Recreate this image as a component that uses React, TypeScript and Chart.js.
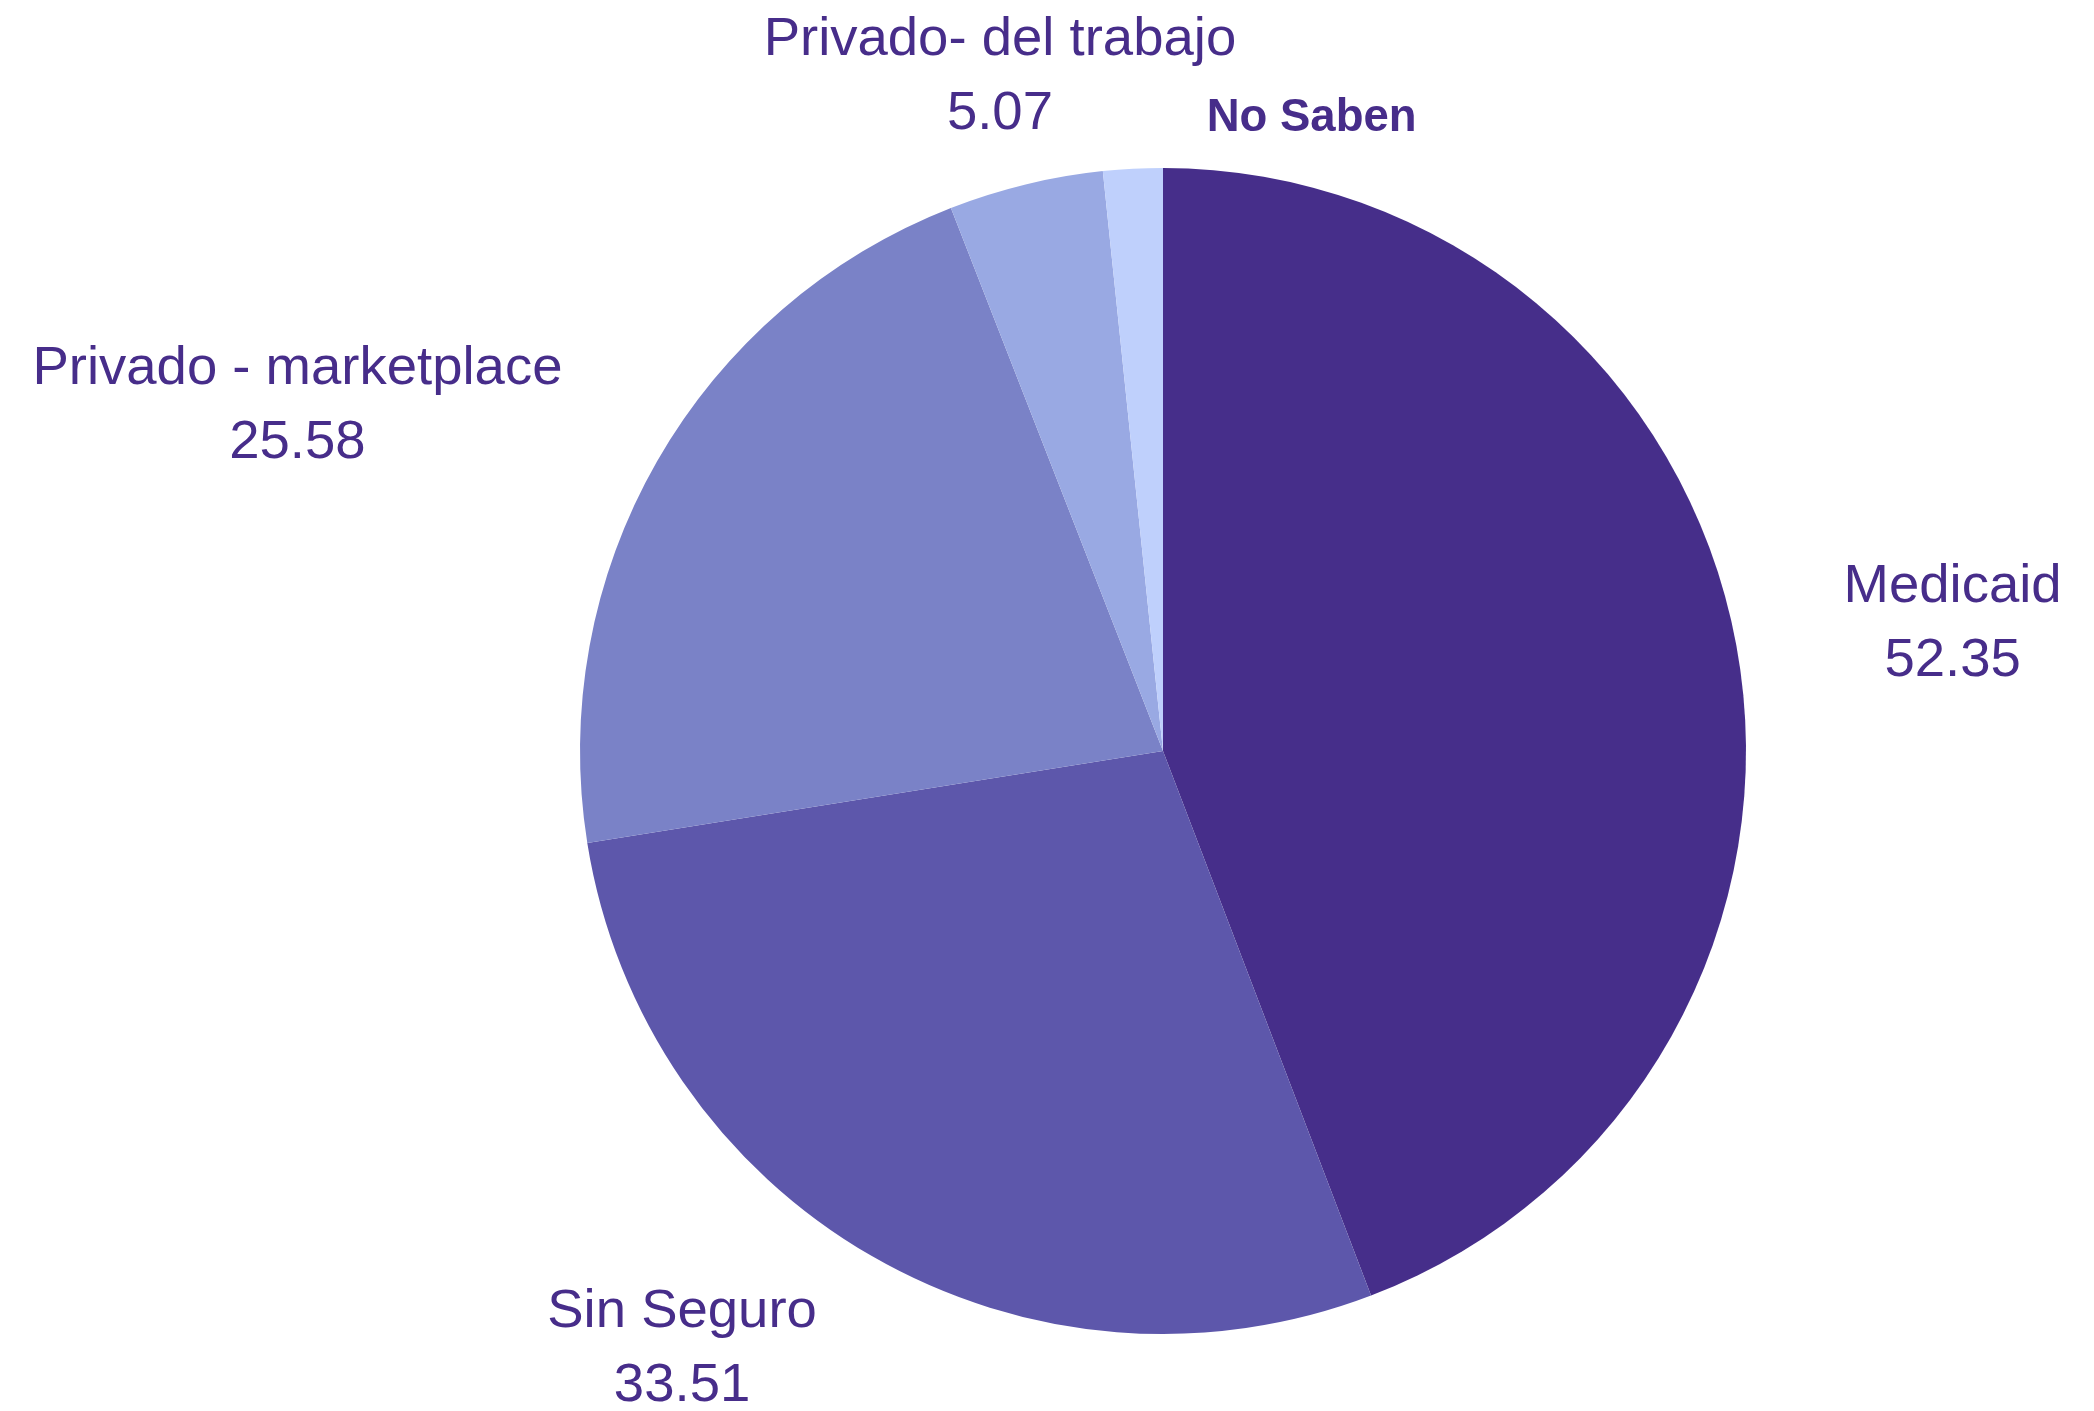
import React, { useEffect, useRef } from "react";
import { Chart, registerables } from "chart.js";

Chart.register(...registerables);

const categories = ["Medicaid", "Sin Seguro", "Privado - marketplace", "Privado- del trabajo", "No Saben"];
const values = [52.35, 33.51, 25.58, 5.07, 1.95];
const valueLabels = ["52.35", "33.51", "25.58", "5.07", ""];
const sliceColors = ["#462e8a", "#5d57ab", "#7a82c7", "#99a9e3", "#bfd0fc"];
const TEXT_COLOR = "#472d8a";
const FONT = "'Liberation Sans', Arial, sans-serif";

const labelPlugin = {
  id: "outsideLabels",
  afterDatasetsDraw(chart: any) {
    const ctx = chart.ctx;
    const meta = chart.getDatasetMeta(0);
    ctx.save();
    ctx.fillStyle = TEXT_COLOR;
    meta.data.forEach((arc: any, i: number) => {
      const p = arc.getProps(["x", "y", "startAngle", "endAngle", "outerRadius"], true);
      const R = p.outerRadius;
      if (i === 4) {
        // small slice: label nudged to the right of the top of the pie
        ctx.font = `bold 45.5px ${FONT}`;
        ctx.textAlign = "left";
        ctx.textBaseline = "alphabetic";
        ctx.fillText(categories[i], p.x + R * 0.075, p.y - R * 1.063);
        return;
      }
      const mid = (p.startAngle + p.endAngle) / 2;
      const lr = R * 1.187;
      const x = p.x + lr * Math.cos(mid);
      const y = p.y + lr * Math.sin(mid);
      const c = Math.cos(mid);
      ctx.textAlign = c > 0.4 ? "left" : c < -0.4 ? "right" : "center";
      ctx.textBaseline = "alphabetic";
      ctx.font = `54.5px ${FONT}`;
      const w1 = ctx.measureText(categories[i]).width;
      const w2 = ctx.measureText(valueLabels[i]).width;
      const bw = Math.max(w1, w2);
      let cxBox = x;
      if (ctx.textAlign === "left") cxBox = x + bw / 2;
      if (ctx.textAlign === "right") cxBox = x - bw / 2;
      ctx.textAlign = "center";
      ctx.fillText(categories[i], cxBox, y - 23);
      ctx.fillText(valueLabels[i], cxBox, y + 51);
    });
    ctx.restore();
  },
};

export default function App() {
  const ref = useRef<HTMLCanvasElement | null>(null);
  useEffect(() => {
    if (!ref.current) return;
    const chart = new Chart(ref.current, {
      type: "pie",
      data: {
        labels: categories,
        datasets: [
          {
            data: values,
            backgroundColor: sliceColors,
            borderWidth: 0,
          },
        ],
      },
      options: {
        responsive: false,
        devicePixelRatio: 1,
        animation: false,
        layout: { padding: { top: 168, bottom: 77, left: 580, right: 348 } },
        plugins: {
          legend: { display: false },
          tooltip: { enabled: false },
          title: { display: false },
        },
      },
      plugins: [labelPlugin],
    });
    return () => chart.destroy();
  }, []);
  return (
    <div style={{ position: "fixed", left: 0, top: 0, width: 2094, height: 1411, background: "#fff" }}>
      <canvas ref={ref} width={2094} height={1411} style={{ display: "block" }} />
    </div>
  );
}
